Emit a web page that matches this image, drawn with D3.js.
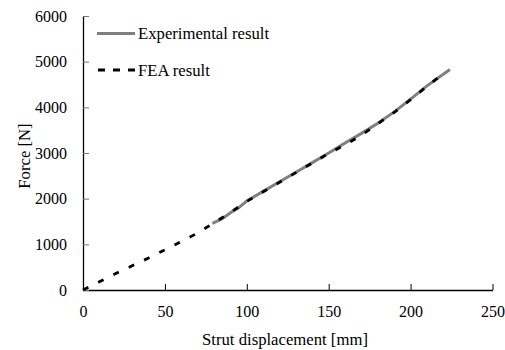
<!DOCTYPE html>
<html><head><meta charset="utf-8">
<script src="https://cdn.jsdelivr.net/npm/d3@7"></script>
<style>body{margin:0;background:#fff}svg{display:block}text{font-family:"Times New Roman",Times,"Liberation Serif",serif !important;fill:#000}</style>
</head><body><svg id="c" width="505" height="350"></svg>
<script>
const expX = [79, 85, 90, 95, 100, 110, 120, 130, 140, 150, 160, 170, 180, 190, 200, 210, 224];
const expY = [1460, 1560, 1690, 1800, 1950, 2160, 2370, 2580, 2790, 3000, 3220, 3430, 3650, 3900, 4180, 4470, 4830];
const feaX = [0, 10, 20, 30, 40, 50, 60, 70, 80, 90, 100, 110, 120, 130, 140, 150, 160, 170, 180, 190, 200, 210, 220];
const feaY = [0, 180, 360, 530, 700, 880, 1060, 1250, 1470, 1700, 1940, 2150, 2360, 2570, 2780, 2990, 3180, 3390, 3640, 3890, 4170, 4460, 4740];
const xTicks = [0, 50, 100, 150, 200, 250];
const yTicks = [0, 1000, 2000, 3000, 4000, 5000, 6000];
const seriesNames = ["Experimental result", "FEA result"];

const svg = d3.select("#c");
const x = d3.scaleLinear().domain([0, 250]).range([83, 492.5]);
const y = d3.scaleLinear().domain([0, 6000]).range([290, 16]);
const fmt = d3.format("d");

// axes
const xAxis = d3.axisBottom(x).tickValues(xTicks).tickFormat(fmt).tickSize(-6).tickPadding(16).tickSizeOuter(0);
const gx = svg.append("g").attr("transform", "translate(0,290)").call(xAxis).attr("font-family", null);
gx.select(".domain").attr("stroke", "#000").attr("stroke-width", 1.3);
gx.selectAll(".tick line").attr("stroke", "#000").attr("stroke-width", 1);
gx.selectAll("text").style("font-size", "16px");

const yAxis = d3.axisLeft(y).tickValues(yTicks).tickFormat(fmt).tickSize(-6).tickPadding(16).tickSizeOuter(0);
const gy = svg.append("g").attr("transform", "translate(83,0)").call(yAxis).attr("font-family", null);
gy.select(".domain").attr("stroke", "#000").attr("stroke-width", 1.3);
gy.selectAll(".tick line").attr("stroke", "#777").attr("stroke-width", 1);
gy.selectAll("text").style("font-size", "16px");

const line = d3.line().x(d => x(d[0])).y(d => y(d[1]));
svg.append("path").datum(expX.map((v, i) => [v, expY[i]]))
  .attr("d", line).attr("fill", "none").attr("stroke", "#7f7f7f").attr("stroke-width", 3);
svg.append("path").datum(feaX.map((v, i) => [v, feaY[i]]))
  .attr("d", line).attr("fill", "none").attr("stroke", "#000").attr("stroke-width", 2.8)
  .attr("stroke-dasharray", "6,11");

// legend
svg.append("line").attr("x1", 97).attr("x2", 135).attr("y1", 33.5).attr("y2", 33.5)
  .attr("stroke", "#7f7f7f").attr("stroke-width", 3);
svg.append("text").attr("x", 138).attr("y", 39).style("font-size", "16.7px").text(seriesNames[0]);
svg.append("line").attr("x1", 98).attr("x2", 135).attr("y1", 70).attr("y2", 70)
  .attr("stroke", "#000").attr("stroke-width", 2.8).attr("stroke-dasharray", "7,8");
svg.append("text").attr("x", 138).attr("y", 76).style("font-size", "16.7px").text(seriesNames[1]);

// titles
svg.append("text").attr("x", 285).attr("y", 345).attr("text-anchor", "middle")
  .style("font-size", "16.7px").text("Strut displacement [mm]");
svg.append("text").attr("transform", "translate(30,156) rotate(-90)").attr("text-anchor", "middle")
  .style("font-size", "16.7px").text("Force [N]");
</script></body></html>
